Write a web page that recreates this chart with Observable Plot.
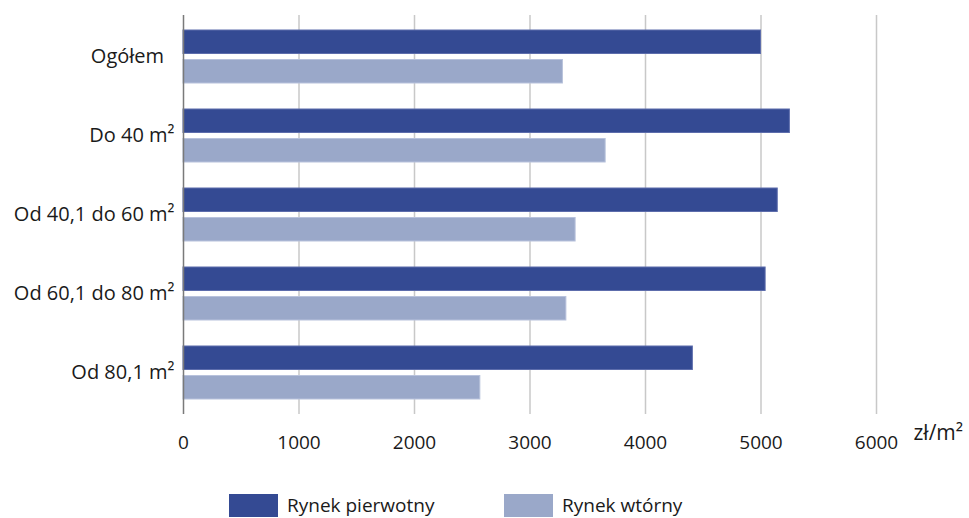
<!DOCTYPE html>
<html>
<head>
<meta charset="utf-8">
<script src="https://cdn.jsdelivr.net/npm/d3@7"></script>
<script src="https://cdn.jsdelivr.net/npm/@observablehq/plot@0.6"></script>
<style>
  html, body { margin: 0; padding: 0; background: #ffffff; }
  body { width: 969px; height: 518px; overflow: hidden; font-family: "Open Sans", sans-serif; color: #1a1a1a; }
  #chart svg { display: block; }
  #legend { display: flex; padding-left: 229px; margin-top: 24px; }
  .item { display: flex; align-items: center; width: 275px; height: 23px; font-size: 19px; line-height: 23px; }
  .swatch { width: 49px; height: 23px; margin-right: 9px; flex: none; }
</style>
</head>
<body>
<div id="chart"></div>
<div id="legend"></div>
<script>
// Average price per square metre of dwellings, by floor area
const categories = ["Ogółem", "Do 40 m²", "Od 40,1 do 60 m²", "Od 60,1 do 80 m²", "Od 80,1 m²"];
const primaryMarket = [5000, 5250, 5145, 5040, 4410];
const secondaryMarket = [3285, 3655, 3395, 3315, 2570];
const seriesNames = ["Rynek pierwotny", "Rynek wtórny"];
const seriesColors = ["#344a93", "#9aa8c9"];
const xTicks = [0, 1000, 2000, 3000, 4000, 5000, 6000];
const unitLabel = "zł/m²";

const rows = categories.map((category, i) => ({
  category,
  primary: primaryMarket[i],
  secondary: secondaryMarket[i]
}));

const chart = Plot.plot({
  width: 969,
  height: 470,
  marginLeft: 183,
  marginRight: 93,
  marginTop: 15,
  marginBottom: 56,
  style: { fontFamily: "Open Sans", fontSize: "19px", color: "#1a1a1a", background: "#ffffff" },
  x: { domain: [0, 6000], ticks: xTicks },
  y: { domain: categories, padding: 0 },
  marks: [
    Plot.ruleX(xTicks.slice(1), { stroke: "#c8c8c8", strokeWidth: 1.5 }),
    Plot.barX(rows, {
      x: "primary", y: "category",
      fill: seriesColors[0], stroke: "#5d6dac", strokeWidth: 1,
      insetTop: 13, insetBottom: 42.5
    }),
    Plot.barX(rows, {
      x: "secondary", y: "category",
      fill: seriesColors[1], stroke: "#b8c2dc", strokeWidth: 1,
      insetTop: 42.5, insetBottom: 13
    }),
    Plot.ruleX([0], { stroke: "#7a7a7a", strokeWidth: 1.5 }),
    Plot.axisX({
      ticks: xTicks, tickSize: 0, tickPadding: 21, label: null, fontSize: 19,
      tickFormat: d => String(d)
    }),
    Plot.axisY({
      tickSize: 0, tickPadding: 9, label: null, fontSize: 20,
      tickFormat: d => d === "Ogółem" ? d + "\u00a0\u00a0" : d
    }),
    Plot.text([unitLabel], {
      frameAnchor: "bottom-right", textAnchor: "start",
      dx: 37, dy: 25, fontSize: 21, fill: "#1a1a1a"
    })
  ]
});
document.getElementById("chart").append(chart);

// Legend below the chart
const legend = document.getElementById("legend");
seriesNames.forEach((name, i) => {
  const item = document.createElement("div");
  item.className = "item";
  const sw = document.createElement("span");
  sw.className = "swatch";
  sw.style.background = seriesColors[i];
  const label = document.createElement("span");
  label.textContent = name;
  item.append(sw, label);
  legend.append(item);
});
</script>
</body>
</html>
